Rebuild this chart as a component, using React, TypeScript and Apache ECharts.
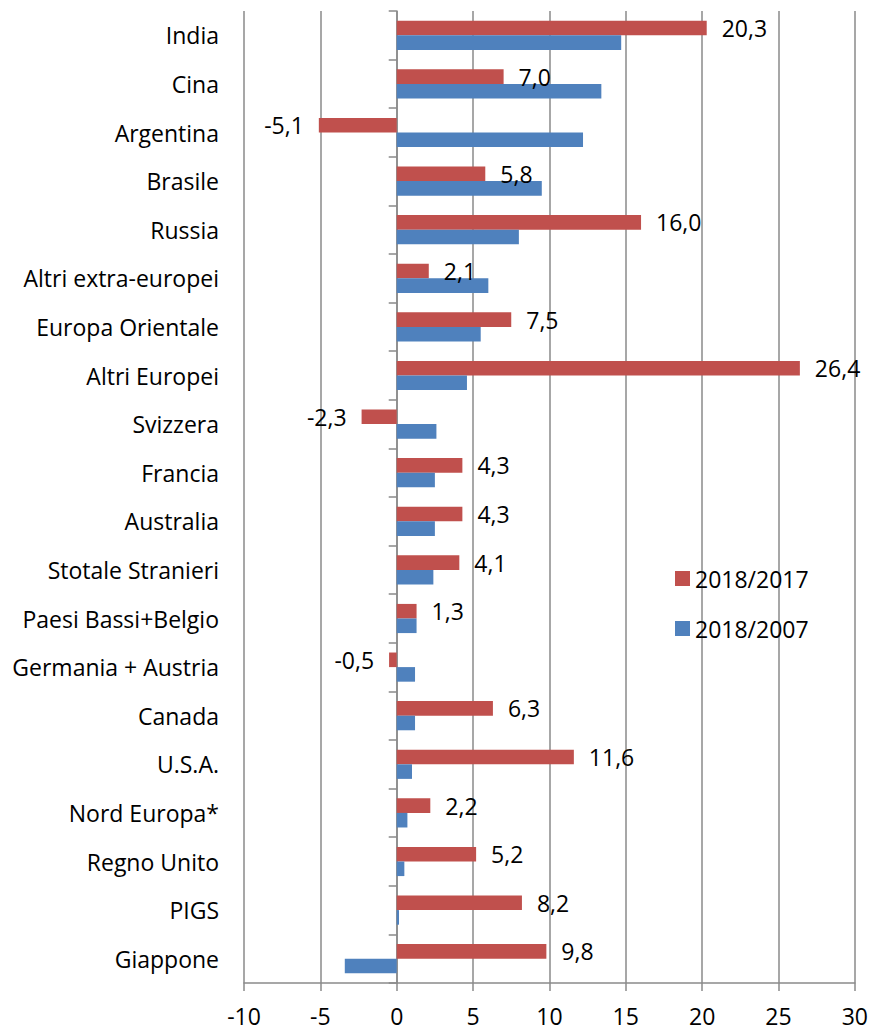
import React, { useEffect, useRef } from "react";
import * as echarts from "echarts";

const categories = [
  "India",
  "Cina",
  "Argentina",
  "Brasile",
  "Russia",
  "Altri extra-europei",
  "Europa Orientale",
  "Altri Europei",
  "Svizzera",
  "Francia",
  "Australia",
  "Stotale Stranieri",
  "Paesi Bassi+Belgio",
  "Germania + Austria",
  "Canada",
  "U.S.A.",
  "Nord Europa*",
  "Regno Unito",
  "PIGS",
  "Giappone",
];

const seriesNames = ["2018/2017", "2018/2007"];

const values2018vs2017 = [
  20.3, 7.0, -5.1, 5.8, 16.0, 2.1, 7.5, 26.4, -2.3, 4.3, 4.3, 4.1, 1.3, -0.5, 6.3,
  11.6, 2.2, 5.2, 8.2, 9.8,
];

const values2018vs2007 = [
  14.7, 13.4, 12.2, 9.5, 8.0, 6.0, 5.5, 4.6, 2.6, 2.5, 2.5, 2.4, 1.3, 1.2, 1.2, 1.0,
  0.7, 0.5, 0.15, -3.4,
];

const xMin = -10;
const xMax = 30;
const xInterval = 5;

const FONT = "Open Sans";
const FS = 23;
const GRID_COLOR = "#8a8a8a";

export default function App() {
  const ref = useRef<HTMLDivElement>(null);

  useEffect(() => {
    if (!ref.current) return;
    const chart = echarts.init(ref.current, null, { renderer: "svg" });
    const fmt = (v: number) => v.toFixed(1).replace(".", ",");
    chart.setOption({
      animation: false,
      textStyle: { fontFamily: FONT, color: "#000" },
      grid: { left: 244, right: 14, top: 11, bottom: 48, containLabel: false },
      legend: {
        orient: "vertical",
        left: 670,
        top: 562,
        itemWidth: 15,
        itemHeight: 15,
        itemGap: 27,
        icon: "rect",
        data: seriesNames,
        textStyle: { fontFamily: FONT, fontSize: FS, color: "#000", lineHeight: 23 },
      },
      xAxis: {
        type: "value",
        min: xMin,
        max: xMax,
        interval: xInterval,
        axisLine: { show: true, lineStyle: { color: GRID_COLOR, width: 1.5 } },
        axisTick: { show: true, length: 8, lineStyle: { color: GRID_COLOR, width: 1.5 } },
        splitLine: { show: true, lineStyle: { color: GRID_COLOR, width: 1.5 } },
        axisLabel: { fontFamily: FONT, fontSize: FS, color: "#000", margin: 21 },
      },
      yAxis: [
        {
          type: "category",
          inverse: true,
          data: categories,
          axisLine: { show: false, onZero: false },
          axisTick: { show: false },
          splitLine: { show: false },
          axisLabel: { fontFamily: FONT, fontSize: FS, color: "#000", margin: 25 },
        },
        {
          type: "category",
          inverse: true,
          position: "left",
          data: categories,
          axisLine: { show: true, onZero: true, lineStyle: { color: GRID_COLOR, width: 1.5 } },
          axisTick: { show: true, length: 8, inside: false, lineStyle: { color: GRID_COLOR, width: 1.5 } },
          axisLabel: { show: false },
          splitLine: { show: false },
        },
      ],
      series: [
        {
          name: seriesNames[0],
          type: "bar",
          yAxisIndex: 0,
          barGap: "0%",
          barCategoryGap: "40%",
          itemStyle: { color: "#C0504D" },
          label: {
            show: true,
            distance: 15,
            fontFamily: FONT,
            fontSize: FS,
            color: "#000",
            formatter: (p: any) => fmt(p.value),
          },
          data: values2018vs2017.map((v) => ({
            value: v,
            label: { position: v < 0 ? "left" : "right" },
          })),
        },
        {
          name: seriesNames[1],
          type: "bar",
          yAxisIndex: 0,
          barGap: "0%",
          barCategoryGap: "40%",
          itemStyle: { color: "#4F81BD" },
          data: values2018vs2007,
        },
      ],
    });
    return () => chart.dispose();
  }, []);

  return (
    <div
      ref={ref}
      style={{ position: "absolute", left: 0, top: 0, width: 871, height: 1031 }}
    />
  );
}
